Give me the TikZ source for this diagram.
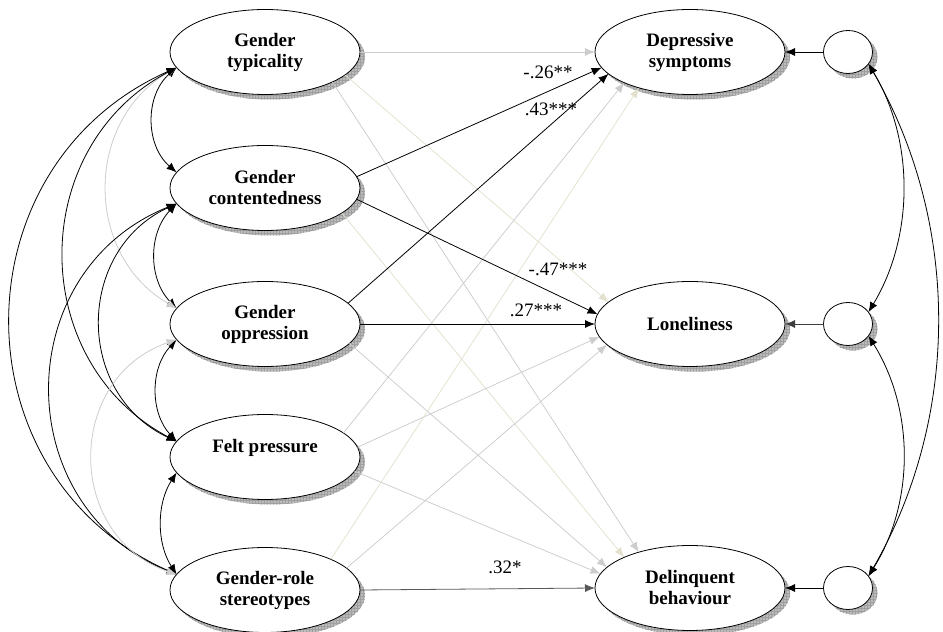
\documentclass[tikz,border=0pt]{standalone}
\usepackage{fontspec}
\setmainfont{Liberation Serif}
\usetikzlibrary{arrows.meta,shadows,patterns,shapes.geometric}
\definecolor{lgray}{HTML}{CCCCCC}
\definecolor{beige}{HTML}{E3E0CE}
\definecolor{shad}{HTML}{BBBBBB}
\begin{document}
\begin{tikzpicture}[x=1pt,y=1pt,
  shadowed/.style={general shadow={shadow xshift=5pt,shadow yshift=-5pt,fill=shad},
                   general shadow={shadow xshift=5pt,shadow yshift=-5pt,pattern=grid,pattern color=gray!75}},
  var/.style={ellipse,draw,line width=0.8pt,fill=white,inner sep=0pt,outer sep=0pt,
              minimum width=190pt,minimum height=85pt,align=center,
              font=\fontsize{19}{21}\selectfont\bfseries,shadowed},
  err/.style={ellipse,draw,line width=0.8pt,fill=white,inner sep=0pt,outer sep=0pt,
              minimum width=49pt,minimum height=43pt,shadowed},
  coef/.style={font=\fontsize{19}{21}\selectfont,inner sep=0pt},
  pth/.style={-{Latex[length=10pt,width=8pt]},line width=0.8pt},
  ns/.style={pth,draw=lgray,line width=0.75pt},
  nsb/.style={pth,draw=beige,line width=0.75pt},
  cov/.style={{Latex[length=10pt,width=8pt]}-{Latex[length=10pt,width=8pt]},line width=0.8pt},
  covg/.style={cov,draw=lgray}
]
\useasboundingbox (0,0) rectangle (943,632);

% predictors
\node[var] (typ)  at (265,580) {Gender\\typicality};
\node[var] (cont) at (265,444) {Gender\\contentedness};
\node[var] (opp)  at (265,308) {Gender\\oppression};
\node[var] (felt) at (265,175) {Felt pressure\\[2pt]\mbox{}};
\node[var] (ster) at (265,42)  {Gender-role\\stereotypes};

% outcomes
\node[var] (dep) at (690,580) {Depressive\\symptoms};
\node[var] (lon) at (690,308) {Loneliness};
\node[var] (del) at (690,44)  {Delinquent\\behaviour};

% residuals
\node[err] (e1) at (848,580) {};
\node[err] (e2) at (848,308) {};
\node[err] (e3) at (848,44)  {};

% non-significant paths
\draw[ns]  (typ.east) -- (dep.west);
\draw[nsb] (typ.-16) -- (lon.165);
\draw[ns]  (typ.-24) -- (del.145);
\draw[nsb] (cont.-18) -- (del.155);
\draw[ns]  (opp.-13) -- (del.166);
\draw[ns]  (felt.17) -- (dep.205);
\draw[ns]  (felt.6) -- (lon.188);
\draw[ns]  (felt.-9) -- (del.171);
\draw[nsb] (ster.25) -- (dep.215);
\draw[ns]  (ster.15) -- (lon.194);

% significant paths
\draw[pth] (cont.7) -- (dep.190);
\draw[pth] (opp.14) -- (dep.195);
\draw[pth] (cont.-7) -- (lon.174);
\draw[pth] (opp.east) -- (lon.west);
\draw[pth,draw=black!65] (ster.east) -- (del.west);

% residual paths
\draw[pth] (e1.west) -- (dep.east);
\draw[pth,draw=black!75] (e2.west) -- (lon.east);
\draw[pth] (e3.west) -- (del.east);

% coefficients
\node[coef] (c1) at (548,560) {-.26**};
\node[coef] (c2) at (551,523) {.43***};
\node[coef] (c3) at (558,363) {-.47***};
\node[coef] (c4) at (536,322) {.27***};
\node[coef] (c5) at (505,65)  {.32*};

% covariances among predictors
\draw[cov]  (typ.190)  .. controls +(221:42)  and +(139:42)  .. (cont.170);
\draw[cov]  (cont.190) .. controls +(226:41)  and +(134:41)  .. (opp.170);
\draw[cov]  (opp.190)  .. controls +(227:39)  and +(133:39)  .. (felt.170);
\draw[cov]  (felt.190) .. controls +(237:37)  and +(123:37)  .. (ster.170);
\draw[covg] (typ.190)  .. controls +(210:107) and +(150:107) .. (opp.170);
\draw[cov]  (typ.190)  .. controls +(208:170) and +(152:170) .. (felt.170);
\draw[cov]  (typ.190)  .. controls +(204:242) and +(156:242) .. (ster.170);
\draw[cov]  (cont.190) .. controls +(205:112) and +(155:112) .. (felt.170);
\draw[cov]  (cont.190) .. controls +(202:181) and +(158:181) .. (ster.170);
\draw[covg] (opp.190)  .. controls +(199:118) and +(161:118) .. (ster.170);

% covariances among residuals
\draw[cov] (e1.-30) .. controls +(301:89)  and +(59:89)  .. (e2.30);
\draw[cov] (e2.-30) .. controls +(302:87)  and +(58:87)  .. (e3.30);
\draw[cov] (e1.-30) .. controls +(300:184) and +(60:184) .. (e3.30);
\end{tikzpicture}
\end{document}
